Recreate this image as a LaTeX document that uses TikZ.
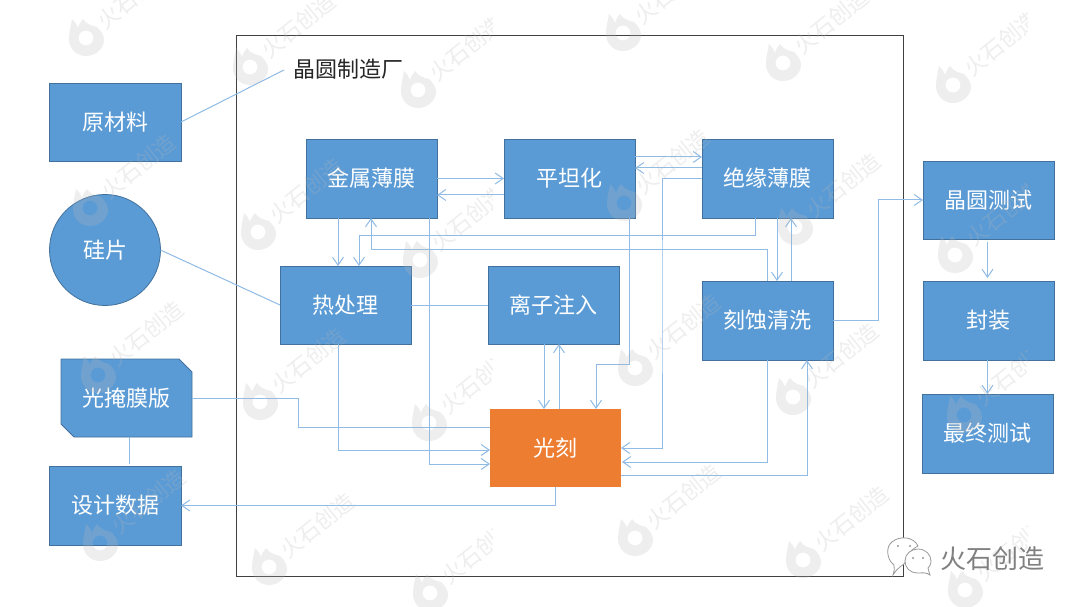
\documentclass[tikz,border=0pt]{standalone}
\usepackage{fontspec}
\setmainfont{Noto Sans CJK SC}
\usetikzlibrary{arrows.meta,shapes.misc,shapes.geometric}
\definecolor{boxblue}{HTML}{5B9BD5}
\definecolor{boxedge}{HTML}{41719C}
\definecolor{conblue}{HTML}{8FBBE5}
\definecolor{orangebox}{HTML}{ED7D31}
\definecolor{wmgray}{HTML}{B8B8B8}
\tikzset{
  x=1pt,y=-1pt,
  every node/.style={inner sep=0pt,outer sep=0pt},
  lab/.style={text=white,font=\fontsize{22}{24}\selectfont},
  bluebox/.style={lab,rectangle,draw=boxedge,fill=boxblue,line width=0.8pt,minimum width=131pt,minimum height=78pt},
  orbox/.style={lab,rectangle,fill=orangebox,minimum width=131pt,minimum height=78pt},
  con/.style={draw=conblue,line width=1pt},
  arr/.style={con,-{Straight Barb[length=8pt,width=11pt,line width=1pt]}},
  wmark/.style={opacity=0.24,text=wmgray,font=\fontsize{22}{24}\selectfont,rotate=39},
}
\newcommand{\wmk}[2]{%
  \begin{scope}[shift={(#1,#2)}]
    \fill[wmgray,opacity=0.24,even odd rule]
      (0,18) .. controls (-10,18) and (-17,10) .. (-17,1)
      .. controls (-17,-6) and (-15,-12) .. (-14,-19)
      .. controls (-11,-16) and (-9,-13) .. (-8,-10)
      .. controls (-7,-14) and (-5,-16) .. (-3,-19)
      .. controls (0,-14) and (6,-12) .. (11,-11)
      .. controls (15,-7) and (18,-3) .. (18,2)
      .. controls (18,10) and (10,18) .. (0,18) -- cycle
      (0,0) circle[radius=7.5];
    \node[wmark] at (48.5,-41.5) {火石创造};
  \end{scope}}
\begin{document}
\begin{tikzpicture}
\useasboundingbox (0,0) rectangle (1080,607);
\fill[white] (0,0) rectangle (1080,607);
% frame
\node[draw=black!75,line width=0.8pt,rectangle,minimum width=667pt,minimum height=541pt] (frame) at (569.5,305.5) {};
\node[anchor=west,font=\fontsize{22}{24}\selectfont,text=black!85] (title) at (293,69) {晶圆制造厂};
% nodes
\node[bluebox,minimum width=132pt] (raw) at (115,122) {原材料};
\node[lab,circle,draw=boxedge,fill=boxblue,line width=0.8pt,minimum size=111pt] (si) at (105,250) {硅片};
\filldraw[draw=boxedge,fill=boxblue,line width=0.8pt] (61,359) -- (179,359) -- (192,372) -- (192,437) -- (74,437) -- (61,424) -- cycle;
\node[lab,minimum width=131pt,minimum height=78pt] (mask) at (126.5,398) {光掩膜版};
\node[bluebox,minimum width=132pt,minimum height=79pt] (design) at (115,505.5) {设计数据};
\node[bluebox,minimum height=79pt] (metal) at (371.5,178.5) {金属薄膜};
\node[bluebox,minimum height=79pt] (cmp) at (569.5,178.5) {平坦化};
\node[bluebox,minimum height=79pt] (ins) at (767.5,178.5) {绝缘薄膜};
\node[bluebox] (heat) at (345.5,305) {热处理};
\node[bluebox] (ion) at (553.5,305) {离子注入};
\node[bluebox,minimum height=79pt] (etch) at (767.5,320.5) {刻蚀清洗};
\node[orbox] (litho) at (555.5,448) {光刻};
\node[bluebox] (wtest) at (988.5,200) {晶圆测试};
\node[bluebox,minimum height=79pt] (pack) at (988.5,320.5) {封装};
\node[bluebox,minimum height=79pt] (ftest) at (987.5,433.5) {最终测试};
\coordinate (titleend) at (284,70);
% plain connectors
\draw[con] (raw.east) -- (titleend);
\draw[con] (si.east) -- (heat.west);
\draw[con] (heat.east) -- (ion.west);
\draw[con,shorten >=2pt] ([xshift=3]mask.south) -- ([xshift=14.5]design.north);
% metal / planar / insulator
\draw[arr] (metal.east) -- ([yshift=0]cmp.west);
\draw[arr] ([yshift=-16.5]cmp.west) -- ([yshift=-16.5]metal.east);
\draw[arr] ([yshift=21.5]cmp.east) -- ([yshift=21.5]ins.west);
\draw[arr] ([yshift=10.5]ins.west) -- ([yshift=10.5]cmp.east);
\draw[arr] (ins.west) -| (662,300) |- (litho.east);
\draw[arr] ([xshift=59.5]cmp.south) |- (596,364) -- ([xshift=40.5]litho.north);
\draw[arr] ([xshift=57.5]metal.south) |- ([yshift=-16]litho.west);
\draw[arr] ([xshift=-33.5]metal.south) -- ([xshift=-7.5]heat.north);
\draw[arr] ([xshift=-12.5]ins.south) |- (359,236) -- ([xshift=13.5]heat.north);
\draw[arr] ([xshift=-0.5]etch.north) |- (371,249) -- ([xshift=-0.5]metal.south);
\draw[arr] ([xshift=9.5]ins.south) -- ([xshift=9.5]etch.north);
\draw[arr] ([xshift=23.5]etch.north) -- ([xshift=23.5]ins.south);
\draw[arr] ([xshift=-9.5]ion.south) -- ([xshift=-11.5]litho.north);
\draw[arr] ([xshift=3.5]litho.north) -- ([xshift=5.5]ion.south);
\draw[arr] ([xshift=-7.5]heat.south) |- ([yshift=-2]litho.west);
\draw[con] (mask.east) -| (298,427) -- ([yshift=21]litho.west);
\draw[arr] (litho.south) |- (design.east);
\draw[arr,shorten >=1pt] (etch.south) |- ([yshift=-14]litho.east);
\draw[arr] ([yshift=-27]litho.east) -| ([xshift=39.5]etch.south);
\draw[arr] (etch.east) -| (878,200) -- (wtest.west);
\draw[arr,shorten <=3pt,shorten >=3pt] ([xshift=-1]wtest.south) -- ([xshift=-1]pack.north);
\draw[arr] ([xshift=-1]pack.south) -- ([xshift=0]ftest.north);
% watermarks
\foreach \p/\q in {86/38,250/67,623/33,783/63,90/208,258/232,624/203,795/227,
  98/375,260/402,635/368,793/397,100/543,269/567,635/538,803/560}{\wmk{\p}{\q}}
\begin{scope}
  \clip (0,0) rectangle (492,607);
  \foreach \p/\q in {418/90,420/260,429/423,430/593}{\wmk{\p}{\q}}
\end{scope}
\begin{scope}
  \clip (0,0) rectangle (1027,607);
  \foreach \p/\q in {953/85,955/255,964/415,965/590}{\wmk{\p}{\q}}
\end{scope}
% wechat logo
\begin{scope}[draw=black!40,fill=white,line width=0.8pt]
  \filldraw (893,575) .. controls (894,571) and (895,568) .. (894,565)
    .. controls (886,559) and (886,546) .. (892,542)
    .. controls (900,535) and (914,537) .. (918,546)
    .. controls (912,549) and (905,556) .. (905,563)
    .. controls (902,566) and (898,567) .. (893,575) -- cycle;
  \fill[black!40] (898,546) circle[radius=1.2] (910,546) circle[radius=1.2];
  \filldraw (930,575) .. controls (926,572) and (922,573) .. (918,573)
    .. controls (909,573) and (905,567) .. (905,561)
    .. controls (905,554) and (911,549) .. (918,549)
    .. controls (926,549) and (931,555) .. (931,561)
    .. controls (931,565) and (929,567) .. (928,568)
    .. controls (929,571) and (929,573) .. (930,575) -- cycle;
  \fill[black!40] (913,558) circle[radius=1.1] (923,558) circle[radius=1.1];
\end{scope}
\node[font=\fontsize{26}{28}\selectfont,text=black!50] (brand) at (992,559) {火石创造};
\end{tikzpicture}
\end{document}
